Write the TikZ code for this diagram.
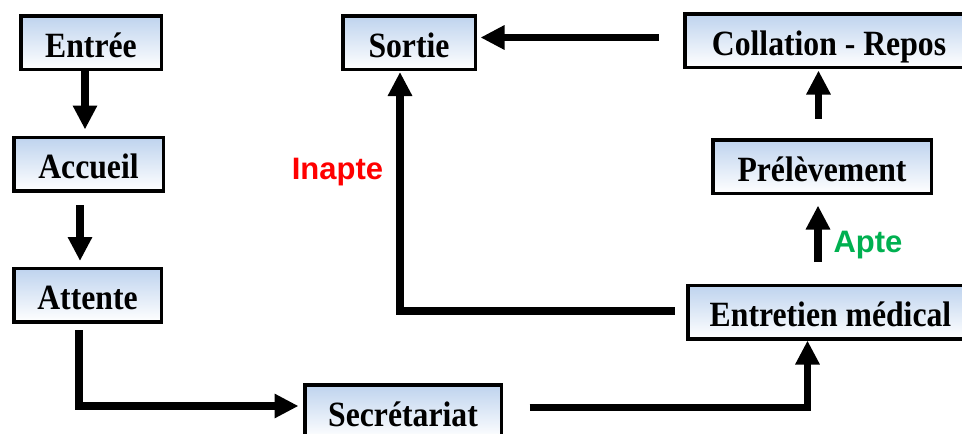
\documentclass[tikz,border=0pt]{standalone}
\usepackage{fontspec}
\setmainfont{Liberation Serif}
\newfontfamily\labelfont{Liberation Sans}
\usetikzlibrary{arrows.meta,calc}

\definecolor{boxblue}{RGB}{190,211,238}
\definecolor{aptegreen}{RGB}{0,176,80}
\definecolor{inaptered}{RGB}{255,0,0}

% box titles are set slightly taller than the font's natural shape
\newcommand\tallword[1]{\scalebox{1}[1.12]{#1}}

\tikzset{
  stepbox/.style={draw=black, line width=3.5pt, top color=boxblue, bottom color=white,
    inner sep=0pt, minimum height=53.5pt, text height=29pt, text depth=0pt,
    font=\fontsize{31.7}{36}\selectfont\bfseries},
  flow/.style={line width=7.5pt, line join=miter,
    -{Triangle[width=23pt,length=24pt]}},
  lab/.style={font=\labelfont\fontsize{31}{36}\selectfont\bfseries, inner sep=0pt}
}

\begin{document}
\begin{tikzpicture}[x=1pt,y=-1pt]
  \useasboundingbox (0,0) rectangle (962,434);
  \clip (0,0) rectangle (962,434);

  % process steps
  \node[stepbox, minimum width=140.5pt] (entree)    at (91,42.5)    {\tallword{Entrée}};
  \node[stepbox, minimum width=149.5pt] (accueil)   at (88.5,164)   {\tallword{Accueil}};
  \node[stepbox, minimum width=147.5pt] (attente)   at (87.5,295)   {\tallword{Attente}};
  \node[stepbox, minimum width=196.5pt] (secr)      at (403,411.5)  {\tallword{Secrétariat}};
  \node[stepbox, minimum width=132.5pt] (sortie)    at (409,42.5)   {\tallword{Sortie}};
  \node[stepbox, minimum width=288.5pt] (collation) at (829,40.5)   {\tallword{Collation - Repos}};
  \node[stepbox, minimum width=218.5pt] (prelev)    at (822,166.5)  {\tallword{Prélèvement}};
  \node[stepbox, minimum width=285.5pt] (entretien) at (830.5,312)  {\tallword{Entretien médical}};

  % decision labels
  \node[lab, text=inaptered] (inapte) at (337.5,172) {Inapte};
  \node[lab, text=aptegreen] (apte)   at (868,245)   {Apte};

  % connectors
  \draw[flow] ($(entree.south)+(-6,0)$) -- ($(accueil.north)+(-3.5,-6)$);
  \draw[flow] ($(accueil.south)+(-8.5,12.5)$) -- ($(attente.north)+(-7.5,-5.5)$);
  \draw[flow] ($(attente.south)+(-8.5,6.5)$) |- ($(secr.west)+(-4.5,-5.5)$);
  \draw[flow] ($(secr.east)+(26.5,-4)$) -| ($(entretien.south)+(-23,0)$);
  \draw[flow] ($(entretien.west)+(-11.5,-1)$) -| ($(sortie.south)+(-9,1)$);
  \draw[flow] ($(collation.west)+(-24.5,-3)$) -- ($(sortie.east)+(3.5,-5)$);
  \draw[flow] ($(prelev.north)+(-3.5,-19.5)$) -- ($(collation.south)+(-10.5,1.5)$);
  \draw[flow] ($(entretien.north)+(-12.5,-21.5)$) -- ($(prelev.south)+(-4,10.5)$);
\end{tikzpicture}
\end{document}
